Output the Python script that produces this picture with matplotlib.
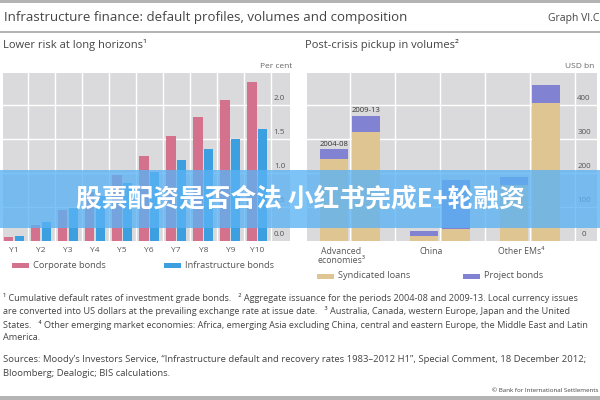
import matplotlib.pyplot as plt
import numpy as np

plt.rcParams['font.family'] = ['Open Sans', 'DejaVu Sans']

# left panel: cumulative default rates, per cent
years = ['Y1', 'Y2', 'Y3', 'Y4', 'Y5', 'Y6', 'Y7', 'Y8', 'Y9', 'Y10']
corporate = [0.06, 0.24, 0.46, 0.72, 0.97, 1.25, 1.54, 1.82, 2.08, 2.34]
infra = [0.07, 0.28, 0.49, 0.66, 0.85, 1.02, 1.19, 1.35, 1.50, 1.64]
left_ticks = [0.0, 0.5, 1.0, 1.5, 2.0]

# right panel: issuance, USD bn
regions = ['Advanced\neconomies\u00b3', 'China', 'Other EMs\u2074']
periods = ['2004-08', '2009-13']
synd_0408 = [240, 15, 165]
proj_0408 = [30, 14, 23]
synd_0913 = [321, 35, 407]
proj_0913 = [47, 145, 52]
right_ticks = [0, 100, 200, 300, 400]

PINK = '#d4718d'
BLUE = '#3ca0e0'
TAN = '#dfc592'
PURPLE = '#8282d2'
BG = '#dadadc'
LINE = '#b4b4b4'
TXT = '#444444'

W, H = 600, 400
fig = plt.figure(figsize=(6, 4), dpi=100)


def box(x0, y0, x1, y1):
    # pixel box (top-left origin) -> figure fraction rect
    return [x0 / W, 1 - y1 / H, (x1 - x0) / W, (y1 - y0) / H]


def fy(y):
    return 1 - y / H


# header lines and titles
fig.add_artist(plt.Rectangle((0, fy(3)), 1, 3 / H, color=LINE, lw=0))
fig.add_artist(plt.Rectangle((0, fy(33)), 1, 2 / H, color=LINE, lw=0))
fig.add_artist(plt.Rectangle((0, fy(400)), 1, 4 / H, color=LINE, lw=0))
fig.text(4 / W, fy(18), 'Infrastructure finance: default profiles, volumes and composition',
         fontsize=9.5, color=TXT, va='center')
fig.text(599 / W, fy(18), 'Graph VI.C', fontsize=7.5, color=TXT, va='center', ha='right')
fig.text(3 / W, fy(45), 'Lower risk at long horizons\u00b9', fontsize=8, color=TXT, va='center')
fig.text(305 / W, fy(45), 'Post-crisis pickup in volumes\u00b2', fontsize=8, color=TXT, va='center')
fig.text(292 / W, fy(66), 'Per cent', fontsize=6, color='#666666', va='center', ha='right')
fig.text(594 / W, fy(66), 'USD bn', fontsize=6, color='#666666', va='center', ha='right')

# left panel
ax1 = fig.add_axes(box(3, 73, 290, 241))
x = np.arange(len(years))
ax1.set_facecolor(BG)
ax1.bar(x - 0.2, corporate, 0.35, color=PINK, zorder=3)
ax1.bar(x + 0.2, infra, 0.35, color=BLUE, zorder=3)
ax1.set_xlim(-0.41, 10.21)
ax1.set_ylim(0, 2.47)
for v in np.arange(0.5, 10, 1.0):
    ax1.axvline(v, color='white', lw=1, zorder=1)
for t in left_ticks[1:]:
    ax1.axhline(t, color='white', lw=1, zorder=1)
for t in left_ticks:
    ax1.text(9.82, t + 0.09, f'{t:.1f}', fontsize=5.8, color='#555555', ha='center', va='center')
ax1.set_xticks(x)
ax1.set_xticklabels(years, fontsize=6, color='#555555')
ax1.tick_params(axis='x', length=0, pad=4)
ax1.set_yticks([])
for s in ax1.spines.values():
    s.set_visible(False)

# right panel
ax2 = fig.add_axes(box(307, 73, 597, 241))
g = np.arange(len(regions))
ax2.set_facecolor(BG)
ax2.bar(g - 0.18, synd_0408, 0.31, color=TAN, zorder=3)
ax2.bar(g - 0.18, proj_0408, 0.31, bottom=synd_0408, color=PURPLE, zorder=3)
ax2.bar(g + 0.18, synd_0913, 0.31, color=TAN, zorder=3)
ax2.bar(g + 0.18, proj_0913, 0.31, bottom=synd_0913, color=PURPLE, zorder=3)
ax2.set_xlim(-0.478, 2.744)
ax2.set_ylim(0, 494)
for v in np.arange(0, 3, 0.5):
    ax2.axvline(v, color='white', lw=1, zorder=1)
for t in right_ticks[1:]:
    ax2.axhline(t, color='white', lw=1, zorder=1)
for t in right_ticks:
    ax2.text(2.6, t + 18, f'{t}', fontsize=5.8, color='#555555', ha='center', va='center')
ax2.text(-0.18, synd_0408[0] + proj_0408[0] + 4, periods[0], fontsize=5.6,
         color='#333333', ha='center', va='bottom', zorder=4)
ax2.text(0.18, synd_0913[0] + proj_0913[0] + 4, periods[1], fontsize=5.6,
         color='#333333', ha='center', va='bottom', zorder=4)
ax2.set_xticks(g - 0.1)
ax2.set_xticklabels(regions, fontsize=6.3, color='#555555', linespacing=1.0)
ax2.tick_params(axis='x', length=0, pad=4)
ax2.set_yticks([])
for s in ax2.spines.values():
    s.set_visible(False)


# legends
def legend_item(x0, y, color, label):
    fig.add_artist(plt.Rectangle((x0 / W, fy(y + 2.5)), 17 / W, 5 / H, color=color, lw=0))
    fig.text((x0 + 21) / W, fy(y), label, fontsize=6.7, color='#555555', va='center')


legend_item(12, 265, PINK, 'Corporate bonds')
legend_item(164, 265, BLUE, 'Infrastructure bonds')
legend_item(317, 276, TAN, 'Syndicated loans')
legend_item(463, 276, PURPLE, 'Project bonds')

# footnotes
notes = [
    '\u00b9 Cumulative default rates of investment grade bonds.   \u00b2 Aggregate issuance for the periods 2004-08 and 2009-13. Local currency issues',
    'are converted into US dollars at the prevailing exchange rate at issue date.   \u00b3 Australia, Canada, western Europe, Japan and the United',
    'States.   \u2074 Other emerging market economies: Africa, emerging Asia excluding China, central and eastern Europe, the Middle East and Latin',
    'America.',
]
for i, line in enumerate(notes):
    fig.text(3 / W, fy(298 + 13.3 * i), line, fontsize=6.6, color=TXT, va='center')
sources = [
    'Sources: Moody\u2019s Investors Service, \u201cInfrastructure default and recovery rates 1983\u20132012 H1\u201d, Special Comment, 18 December 2012;',
    'Bloomberg; Dealogic; BIS calculations.',
]
for i, line in enumerate(sources):
    fig.text(3 / W, fy(360 + 13 * i), line, fontsize=6.8, color=TXT, va='center')
fig.text(598 / W, fy(390), '\u00a9 Bank for International Settlements', fontsize=4.5, color=TXT,
         va='center', ha='right')

# overlay banner
fig.add_artist(plt.Rectangle((0, fy(228)), 1, 58 / H, color='#5ab2f4', alpha=0.78, lw=0, zorder=10))
fig.text(0.5, fy(199), '股票配资是否合法 小红书完成E+轮融资', fontsize=18.5, fontweight='bold',
         color='white', ha='center', va='center', zorder=11,
         family=['Noto Sans CJK SC', 'DejaVu Sans'])

fig.savefig('out.png', dpi=100)
